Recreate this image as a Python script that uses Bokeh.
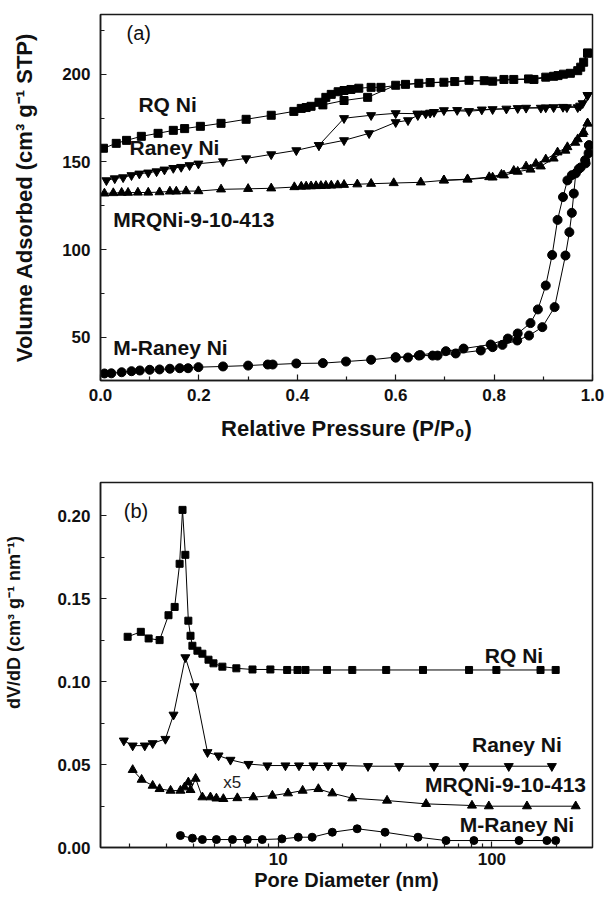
import math
from bokeh.plotting import figure
from bokeh.models import Range1d, FixedTicker, NumeralTickFormatter
from bokeh.layouts import column
from bokeh.embed import file_html
from bokeh.resources import INLINE
from bokeh.core.properties import value

FONT = "Liberation Sans"

# ---------------- Panel (a): N2 isotherms ----------------
rq_ads_p = [0.006, 0.032, 0.053, 0.083, 0.117, 0.148, 0.171, 0.203, 0.245, 0.296, 0.347, 0.393, 0.418, 0.452,
            0.495, 0.543, 0.600, 0.647, 0.698, 0.749, 0.797, 0.840, 0.881, 0.921, 0.941, 0.970, 0.982, 0.990]
rq_ads_v = [157.8, 160.6, 162.3, 164.6, 166.3, 168.0, 169.0, 170.3, 172.0, 174.3, 176.6, 178.8, 181.0, 182.5,
            185.0, 186.8, 193.7, 194.8, 195.4, 196.5, 196.0, 197.0, 197.0, 198.8, 200.0, 202.0, 206.8, 212.0]
rq_des_p = [0.990, 0.976, 0.955, 0.930, 0.905, 0.870, 0.820, 0.780, 0.720, 0.670, 0.620, 0.570, 0.550, 0.525,
            0.509, 0.495, 0.483, 0.469, 0.458, 0.444, 0.428, 0.408]
rq_des_v = [212.0, 204.0, 200.5, 199.2, 198.3, 197.3, 197.0, 196.3, 195.8, 195.2, 194.2, 192.5, 192.5, 192.0,
            191.3, 190.7, 190.0, 188.5, 186.8, 184.0, 181.7, 180.5]

ra_ads_p = [0.012, 0.029, 0.046, 0.063, 0.079, 0.097, 0.114, 0.130, 0.148, 0.164, 0.181, 0.199, 0.249, 0.296,
            0.347, 0.398, 0.444, 0.495, 0.546, 0.600, 0.625, 0.645, 0.670, 0.698, 0.749, 0.797, 0.848, 0.895,
            0.921, 0.948, 0.970, 0.980, 0.990]
ra_ads_v = [139.5, 140.6, 141.2, 142.4, 143.3, 143.9, 144.6, 145.6, 146.5, 147.1, 148.1, 149.0, 150.3, 152.0,
            154.3, 156.6, 159.5, 162.3, 166.3, 172.6, 173.7, 176.6, 178.0, 179.4, 178.9, 180.0, 180.6, 180.8,
            181.1, 181.1, 181.1, 183.4, 188.0]
ra_des_p = [0.990, 0.975, 0.940, 0.905, 0.865, 0.825, 0.775, 0.725, 0.678, 0.661, 0.644, 0.600, 0.550, 0.495, 0.444]
ra_des_v = [188.0, 182.0, 181.3, 181.0, 180.8, 180.3, 179.8, 179.5, 178.4, 177.5, 177.5, 177.7, 176.6, 174.9, 159.5]

mr_ads_p = [0.008, 0.026, 0.043, 0.056, 0.076, 0.097, 0.120, 0.141, 0.154, 0.174, 0.199, 0.245, 0.300, 0.347,
            0.394, 0.408, 0.418, 0.428, 0.438, 0.448, 0.458, 0.469, 0.482, 0.495, 0.522, 0.550, 0.596, 0.651,
            0.698, 0.746, 0.797, 0.820, 0.848, 0.874, 0.895, 0.921, 0.945, 0.965, 0.980, 0.990]
mr_ads_v = [132.1, 132.3, 132.5, 132.5, 132.6, 132.6, 132.8, 133.2, 133.2, 133.4, 133.4, 134.4, 134.7, 135.0,
            135.7, 136.0, 136.1, 136.2, 136.3, 136.4, 136.5, 136.6, 136.8, 137.0, 137.3, 137.6, 138.0, 138.4,
            139.5, 140.0, 141.2, 142.4, 144.5, 145.7, 147.5, 152.0, 156.5, 161.0, 166.0, 172.0]
mr_des_p = [0.990, 0.982, 0.970, 0.949, 0.929, 0.905, 0.885, 0.865, 0.840, 0.815, 0.790, 0.746, 0.698]
mr_des_v = [172.0, 167.0, 163.0, 158.5, 155.5, 151.5, 149.0, 147.5, 145.0, 142.8, 141.4, 140.2, 139.6]

mn_ads_p = [0.008, 0.022, 0.043, 0.063, 0.080, 0.100, 0.120, 0.141, 0.161, 0.178, 0.199, 0.249, 0.300, 0.340,
            0.350, 0.398, 0.452, 0.499, 0.550, 0.600, 0.625, 0.647, 0.675, 0.685, 0.722, 0.773, 0.797, 0.817,
            0.847, 0.871, 0.898, 0.923, 0.945, 0.953, 0.958, 0.962, 0.966, 0.976, 0.986, 0.992, 0.993]
mn_ads_v = [29.5, 29.6, 30.2, 30.8, 31.2, 31.6, 31.8, 32.2, 32.5, 32.5, 33.1, 33.5, 34.0, 34.6,
            34.6, 35.2, 35.4, 36.3, 37.3, 38.8, 38.6, 39.7, 39.7, 39.7, 40.9, 42.6, 44.5, 45.8,
            48.3, 51.1, 55.9, 67.3, 96.7, 110.0, 121.0, 132.0, 143.5, 146.9, 149.2, 155.0, 159.5]
mn_des_p = [0.993, 0.985, 0.972, 0.958, 0.949, 0.940, 0.929, 0.918, 0.905, 0.889, 0.874, 0.848, 0.828, 0.793,
            0.738, 0.702, 0.650, 0.600]
mn_des_v = [159.5, 151.0, 146.0, 142.5, 139.5, 130.0, 117.0, 97.0, 79.6, 66.0, 58.2, 52.3, 49.4, 46.0,
            43.7, 42.2, 40.0, 38.5]

a_xticks = [0.0, 0.2, 0.4, 0.6, 0.8, 1.0]
a_xminor = [0.1, 0.3, 0.5, 0.7, 0.9]
a_yticks = [50, 100, 150, 200]
a_yminor = [75, 125, 175, 225]
a_labels = ["RQ Ni", "Raney Ni", "MRQNi-9-10-413", "M-Raney Ni"]
a_label_x = [0.077, 0.059, 0.026, 0.026]
a_label_y = [182.5, 158.0, 117.5, 44.5]

# ---------------- Panel (b): pore size distributions ----------------
rq_d = [1.97, 2.27, 2.47, 2.78, 3.06, 3.27, 3.45, 3.56, 3.67, 3.79, 3.88, 3.96, 4.18, 4.41, 4.71, 4.97, 5.47,
        6.36, 7.57, 9.18, 11.0, 12.3, 13.4, 16.9, 22.2, 32.0, 47.6, 78.2, 105, 169, 199]
rq_dv = [0.127, 0.130, 0.126, 0.125, 0.140, 0.145, 0.171, 0.2035, 0.1764, 0.1367, 0.1276, 0.1216, 0.1186,
         0.1168, 0.1132, 0.111, 0.109, 0.108, 0.1073, 0.1073, 0.107, 0.107, 0.107, 0.107, 0.107, 0.107,
         0.107, 0.107, 0.107, 0.107, 0.107]
ra_d = [1.89, 2.08, 2.37, 2.58, 2.96, 3.23, 3.67, 4.05, 4.66, 5.25, 5.97, 7.25, 8.89, 10.8, 12.5, 14.6, 17.1,
        19.9, 26.3, 36.8, 53.6, 74.0, 120, 191]
ra_dv = [0.0644, 0.0614, 0.0614, 0.0628, 0.0654, 0.080, 0.1146, 0.0971, 0.0574, 0.0554, 0.0528, 0.0503,
         0.0494, 0.0494, 0.0494, 0.0494, 0.0494, 0.0494, 0.0490, 0.0490, 0.0490, 0.0490, 0.0490, 0.0490]
mr_d = [2.08, 2.29, 2.58, 2.78, 3.13, 3.48, 3.64, 3.79, 3.88, 4.10, 4.41, 4.81, 5.13, 5.53, 6.43, 7.64, 9.38,
        11.1, 13.0, 15.4, 17.9, 22.2, 32.3, 49.2, 80.7, 96.8, 146, 247]
mr_dv = [0.0468, 0.0409, 0.0373, 0.0353, 0.0343, 0.0343, 0.0363, 0.0393, 0.0347, 0.0415, 0.0303, 0.0303,
         0.0296, 0.0293, 0.0298, 0.0303, 0.0313, 0.0327, 0.0343, 0.0353, 0.0327, 0.0297, 0.0283, 0.0263,
         0.0253, 0.0249, 0.0249, 0.0249]
mn_d = [3.48, 3.96, 4.41, 5.13, 6.10, 7.16, 8.41, 10.4, 12.4, 14.4, 17.9, 23.4, 31.6, 45.1, 61, 82.4, 134,
        181, 199]
mn_dv = [0.0072, 0.0056, 0.0048, 0.0048, 0.0048, 0.0048, 0.0048, 0.0052, 0.0062, 0.0062, 0.0092, 0.0113,
         0.0092, 0.0062, 0.0042, 0.0042, 0.0042, 0.0042, 0.0042]

b_xticks = [10, 100]
b_xminor = [2, 3, 4, 5, 6, 7, 8, 9, 20, 30, 40, 50, 60, 70, 80, 90, 200, 300]
b_yticks = [0.00, 0.05, 0.10, 0.15, 0.20]
b_yminor = [0.025, 0.075, 0.125, 0.175]
b_labels = ["RQ Ni", "Raney Ni", "MRQNi-9-10-413", "M-Raney Ni"]
b_label_x = [92.7, 80.7, 48.6, 70.8]
b_label_y = [0.1155, 0.0620, 0.0380, 0.0138]


def style(p):
    p.grid.visible = False
    p.outline_line_color = "#1a1a1a"
    p.outline_line_width = 1.5
    p.background_fill_color = "white"
    p.border_fill_color = "white"
    for ax in p.axis:
        ax.axis_line_color = "#1a1a1a"
        ax.axis_line_width = 1.5
        ax.major_tick_line_color = "#1a1a1a"
        ax.minor_tick_line_color = "#1a1a1a"
        ax.major_tick_line_width = 1.2
        ax.minor_tick_line_width = 1.2
        ax.major_tick_in = 6
        ax.major_tick_out = 0
        ax.minor_tick_in = 4
        ax.minor_tick_out = 0
        ax.major_label_text_font = FONT
        ax.major_label_text_font_style = "bold"
        ax.major_label_text_font_size = "17px"
        ax.major_label_text_color = "#111111"
        ax.axis_label_text_font = FONT
        ax.axis_label_text_font_style = "bold"
        ax.axis_label_text_font_size = "22px"
        ax.axis_label_text_color = "#111111"


def series(p, x, y, marker, size):
    p.line(x, y, line_color="black", line_width=1)
    p.scatter(x, y, marker=marker, size=size, fill_color="black", line_color="black")


# ----- figure (a) -----
pa = figure(width=607, height=448, output_backend="svg", toolbar_location=None,
            x_range=Range1d(0.0, 1.0), y_range=Range1d(25.5, 234),
            min_border_left=99, min_border_right=15, min_border_top=14, min_border_bottom=68)
style(pa)
pa.xaxis.ticker = FixedTicker(ticks=a_xticks, minor_ticks=a_xminor)
pa.yaxis.ticker = FixedTicker(ticks=a_yticks, minor_ticks=a_yminor)
pa.xaxis.formatter = NumeralTickFormatter(format="0.0")
pa.xaxis.axis_label = "Relative Pressure (P/P\u2080)"
pa.yaxis.axis_label = "Volume Adsorbed (cm\u00b3 g\u207b\u00b9 STP)"
pa.xaxis.major_label_standoff = 8
pa.xaxis.axis_label_standoff = 12
pa.yaxis.major_label_standoff = 10
pa.yaxis.axis_label_standoff = 22

series(pa, rq_ads_p, rq_ads_v, "square", 8)
series(pa, rq_des_p, rq_des_v, "square", 8)
series(pa, ra_ads_p, ra_ads_v, "inverted_triangle", 9)
series(pa, ra_des_p, ra_des_v, "inverted_triangle", 9)
series(pa, mr_ads_p, mr_ads_v, "triangle", 9)
series(pa, mr_des_p, mr_des_v, "triangle", 9)
series(pa, mn_ads_p, mn_ads_v, "circle", 9)
series(pa, mn_des_p, mn_des_v, "circle", 9)

pa.text(x=a_label_x, y=a_label_y, text=a_labels, text_font=value(FONT), text_font_style="bold",
        text_font_size="21px", text_baseline="middle", text_align="left", text_color="#111111")
pa.text(x=[0.053], y=[223.3], text=["(a)"], text_font=value(FONT), text_font_size="20px",
        text_baseline="middle", text_align="left", text_color="#111111")

# ----- figure (b) -----
pb = figure(width=607, height=449, output_backend="svg", toolbar_location=None,
            x_axis_type="log", x_range=Range1d(1.47, 296), y_range=Range1d(0.0, 0.22),
            min_border_left=100, min_border_right=14, min_border_top=34, min_border_bottom=50)
style(pb)
pb.xaxis.ticker = FixedTicker(ticks=b_xticks, minor_ticks=b_xminor)
pb.yaxis.ticker = FixedTicker(ticks=b_yticks, minor_ticks=b_yminor)
pb.xaxis.formatter = NumeralTickFormatter(format="0")
pb.yaxis.formatter = NumeralTickFormatter(format="0.00")
pb.xaxis.major_label_standoff = 5
pb.xaxis.axis_label = "Pore Diameter (nm)"
pb.xaxis.axis_label_text_font_size = "20px"
pb.xaxis.axis_label_standoff = 1
pb.yaxis.major_label_standoff = 10
# leading no-break spaces lift the title so it sits where the original one does
pb.yaxis.axis_label = "\u00a0" * 17 + "dV/dD (cm\u00b3 g\u207b\u00b9 nm\u207b\u00b9)"
pb.yaxis.axis_label_text_font_size = "18px"
pb.yaxis.axis_label_standoff = 30

series(pb, rq_d, rq_dv, "square", 7)
series(pb, ra_d, ra_dv, "inverted_triangle", 9)
series(pb, mr_d, mr_dv, "triangle", 9)
series(pb, mn_d, mn_dv, "circle", 8)

pb.text(x=b_label_x, y=b_label_y, text=b_labels, text_font=value(FONT), text_font_style="bold",
        text_font_size="21px", text_baseline="middle", text_align="left", text_color="#111111")
pb.text(x=[1.89], y=[0.203], text=["(b)"], text_font=value(FONT), text_font_size="20px",
        text_baseline="middle", text_align="left", text_color="#111111")
pb.text(x=[5.53], y=[0.039], text=["x5"], text_font=value(FONT), text_font_size="17px",
        text_baseline="middle", text_align="left", text_color="#222222")

layout = column(pa, pb)
open("out.html", "w").write(file_html(layout, INLINE))
